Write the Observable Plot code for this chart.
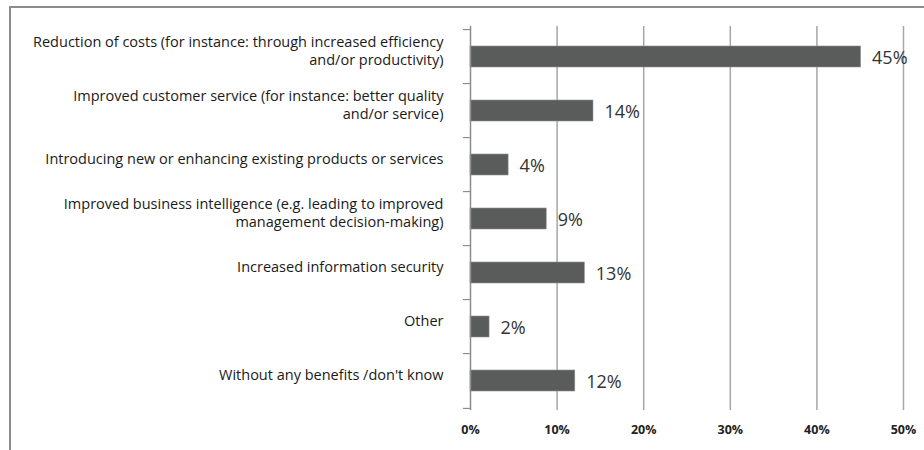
<!DOCTYPE html>
<html>
<head>
<meta charset="utf-8">
<script src="https://cdn.jsdelivr.net/npm/d3@7"></script>
<script src="https://cdn.jsdelivr.net/npm/@observablehq/plot@0.6"></script>
<style>
  html, body { margin: 0; padding: 0; background: #fff; }
  #wrap { position: relative; width: 924px; height: 450px; overflow: hidden; }
  #frame { position: absolute; left: 9px; top: 6px; width: 1000px; height: 1000px; border: 2px solid #8c8c8c; box-sizing: border-box; }
  #chart { position: absolute; left: 0; top: 0; }
</style>
</head>
<body>
<div id="wrap"><div id="frame"></div><div id="chart"></div></div>
<script>
const categories = [
  "Reduction of costs (for instance: through increased efficiency\nand/or productivity)",
  "Improved customer service (for instance: better quality\nand/or service)",
  "Introducing new or enhancing existing products or services",
  "Improved business intelligence (e.g. leading to improved\nmanagement decision-making)",
  "Increased information security",
  "Other",
  "Without any benefits /don't know"
];
const values = [45.1, 14.2, 4.4, 8.8, 13.2, 2.2, 12.1];
const valueLabels = ["45%", "14%", "4%", "9%", "13%", "2%", "12%"];
const xTicks = [0, 10, 20, 30, 40, 50];

const data = categories.map((c, i) => ({category: c, value: values[i], label: valueLabels[i]}));

const W = 924, H = 450, mTop = 26, mBottom = 40, mLeft = 470, mRight = 21;
const step = (H - mTop - mBottom) / categories.length;
const font = "'Open Sans', Lato, sans-serif";

const chart = Plot.plot({
  width: W,
  height: H,
  marginTop: mTop,
  marginBottom: mBottom,
  marginLeft: mLeft,
  marginRight: mRight,
  style: {fontFamily: font, background: "transparent", overflow: "visible"},
  x: {domain: [0, 50]},
  y: {domain: categories, paddingInner: 0.62, paddingOuter: 0.31},
  marks: [
    Plot.ruleX(xTicks.slice(1), {stroke: "#a6a6a6", strokeWidth: 1.5}),
    Plot.barX(data, {y: "category", x: "value", fill: "#5a5c5c", stroke: "#8e8e8e", strokeWidth: 0.6}),
    Plot.ruleX([0], {stroke: "#8c8c8c", strokeWidth: 1.5}),
    Plot.ruleY(categories, {y: d => d, x1: 0, x2: 0, insetLeft: -7, dy: -step / 2, stroke: "#8c8c8c", strokeWidth: 1.2}),
    Plot.ruleY(categories.slice(-1), {y: d => d, x1: 0, x2: 0, insetLeft: -7, dy: step / 2, stroke: "#8c8c8c", strokeWidth: 1.2}),
    Plot.text(data, {y: "category", x: 0, text: "category", textAnchor: "end", dx: -27, dy: -7,
      fontSize: 14.5, lineHeight: 1.3, fill: "#1a1a1a"}),
    Plot.text(data, {y: "category", x: "value", text: "label", textAnchor: "start", dx: 11, dy: 1,
      fontSize: 18, fill: "#333"}),
    Plot.axisX(xTicks, {tickFormat: d => d + "%", tickSize: 0, tickPadding: 15, fontSize: 12.5,
      fontWeight: "bold", fill: "#222", label: null}),
    Plot.axisY({ticks: [], label: null})
  ]
});
document.getElementById("chart").appendChild(chart);
</script>
</body>
</html>
